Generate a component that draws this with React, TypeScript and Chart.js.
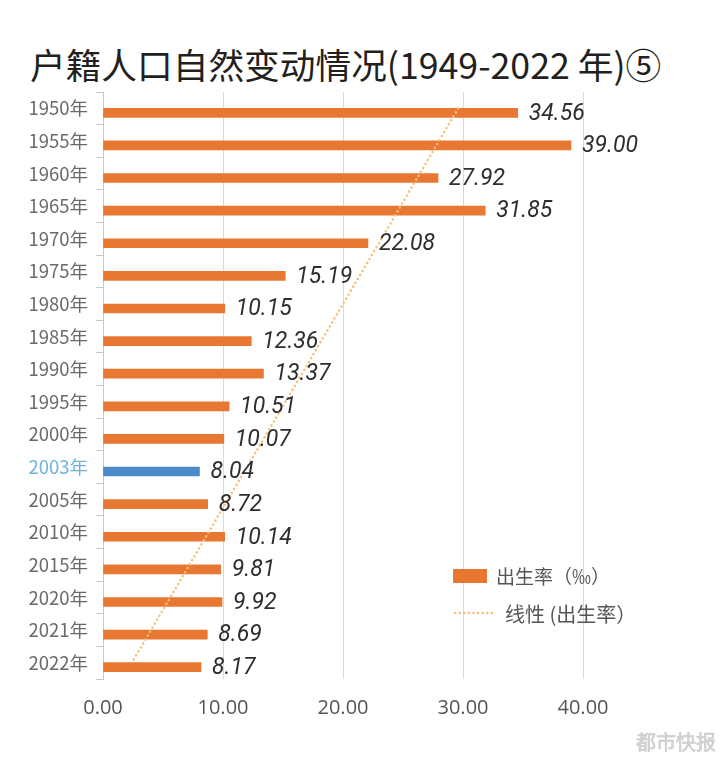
import React, { useEffect, useRef } from "react";
import { Chart, registerables } from "chart.js";

Chart.register(...registerables);

const categories = [
  "1950年", "1955年", "1960年", "1965年", "1970年", "1975年", "1980年", "1985年", "1990年",
  "1995年", "2000年", "2003年", "2005年", "2010年", "2015年", "2020年", "2021年", "2022年",
];
const birthRate = [
  34.56, 39.0, 27.92, 31.85, 22.08, 15.19, 10.15, 12.36, 13.37,
  10.51, 10.07, 8.04, 8.72, 10.14, 9.81, 9.92, 8.69, 8.17,
];
// linear trend line end points (1950 -> 2022)
const trendStart = 29.6;
const trendEnd = 2.4;
const trendLine = categories.map((_, i) => (i === 0 ? trendStart : i === categories.length - 1 ? trendEnd : null));
const xTicks = [0, 10, 20, 30, 40];
const highlightCategory = "2003年";

const ORANGE = "#E87831";
const BLUE = "#4A8AC8";
const TREND = "#F8BE7E";

export default function App() {
  const ref = useRef<HTMLCanvasElement>(null);

  useEffect(() => {
    const canvas = ref.current!;
    const labelPlugin = {
      id: "labels",
      afterDatasetsDraw(chart: any) {
        const ctx = chart.ctx;
        const meta = chart.getDatasetMeta(2);
        ctx.save();
        ctx.font = "italic 400 23px Roboto";
        ctx.fillStyle = "#2e2e2e";
        ctx.textBaseline = "middle";
        ctx.textAlign = "left";
        meta.data.forEach((el: any, i: number) => {
          ctx.fillText(birthRate[i].toFixed(2), el.x + 11, el.y + 1);
        });
        // legend
        ctx.fillStyle = ORANGE;
        ctx.fillRect(453, 569, 34, 14);
        ctx.font = "19px 'Noto Sans CJK SC'";
        ctx.fillStyle = "#555555";
        ctx.fillText("出生率（‰）", 496, 577);
        ctx.strokeStyle = TREND;
        ctx.lineWidth = 2.5;
        ctx.lineCap = "round";
        ctx.setLineDash([0.1, 4.5]);
        ctx.beginPath();
        ctx.moveTo(455, 613);
        ctx.lineTo(492, 613);
        ctx.stroke();
        ctx.setLineDash([]);
        ctx.font = "20px 'Noto Sans CJK SC'";
        ctx.fillText("线性 (出生率）", 505, 614);
        ctx.restore();
      },
    };

    const chart = new Chart(canvas, {
      type: "bar",
      data: {
        labels: categories,
        datasets: [
          {
            type: "line",
            label: "线性 (出生率)",
            data: trendLine,
            indexAxis: "y",
            borderColor: TREND,
            borderWidth: 2.5,
            borderDash: [0.1, 4.5],
            borderCapStyle: "round",
            pointRadius: 0,
            spanGaps: true,
            order: 0,
          } as any,
          {
            type: "bar",
            label: "",
            data: categories.map(() => null),
            indexAxis: "y",
            barThickness: 9,
            order: 1,
          } as any,
          {
            type: "bar",
            label: "出生率(‰)",
            data: birthRate,
            indexAxis: "y",
            backgroundColor: categories.map((c) => (c === highlightCategory ? BLUE : ORANGE)),
            barThickness: 9,
            order: 2,
          } as any,
        ],
      },
      options: {
        indexAxis: "y",
        animation: false,
        responsive: false,
        maintainAspectRatio: false,
        layout: { padding: { left: 0, right: 137, top: 92, bottom: 0 } },
        plugins: { legend: { display: false }, tooltip: { enabled: false }, title: { display: false } },
        scales: {
          x: {
            type: "linear",
            min: 0,
            max: 40,
            afterBuildTicks: (scale: any) => {
              scale.ticks = xTicks.map((v) => ({ value: v }));
            },
            afterFit: (scale: any) => {
              scale.height = 80;
            },
            ticks: {
              padding: 17,
              color: "#555555",
              font: { family: "'Open Sans', Roboto, sans-serif", size: 20 },
              callback: (v: any) => Number(v).toFixed(2),
            },
            grid: {
              color: (c: any) => (c.tick && c.tick.value === 0 ? "rgba(0,0,0,0)" : "#d9d9d9"),
              drawTicks: false,
              lineWidth: 1,
            },
            border: { display: false },
          },
          y: {
            type: "category",
            offset: true,
            afterFit: (scale: any) => {
              scale.width = 103;
            },
            ticks: {
              padding: 8,
              color: (c: any) => (categories[c.index] === highlightCategory ? "#6FB3DB" : "#6a6a6a"),
              font: { family: "'Noto Sans CJK SC', sans-serif", size: 18.5 },
            },
            grid: {
              offset: true,
              drawOnChartArea: false,
              drawTicks: true,
              tickLength: 7,
              color: "#c8c8c8",
            },
            border: { display: true, color: "#c8c8c8" },
          },
        },
      } as any,
      plugins: [labelPlugin],
    });
    return () => chart.destroy();
  }, []);

  return (
    <div style={{ position: "absolute", left: 0, top: 0, width: 720, height: 759, background: "#ffffff", overflow: "hidden" }}>
      <div
        style={{
          position: "absolute",
          left: 30,
          top: 41,
          fontFamily: "'Noto Sans CJK SC', sans-serif",
          fontSize: 35.7,
          fontWeight: 400,
          color: "#231f20",
          whiteSpace: "nowrap",
          lineHeight: "46px",
        }}
      >
        户籍人口自然变动情况(1949-2022 年)⑤
      </div>
      <canvas ref={ref} width={720} height={759} style={{ position: "absolute", left: 0, top: 0 }} />
      <div
        style={{
          position: "absolute",
          left: 636,
          top: 727,
          fontFamily: "'Noto Sans CJK SC', sans-serif",
          fontSize: 20,
          color: "#d6d6d6",
          whiteSpace: "nowrap",
          WebkitTextStroke: "0.5px #c4c4c4",
        }}
      >
        都市快报
      </div>
    </div>
  );
}
